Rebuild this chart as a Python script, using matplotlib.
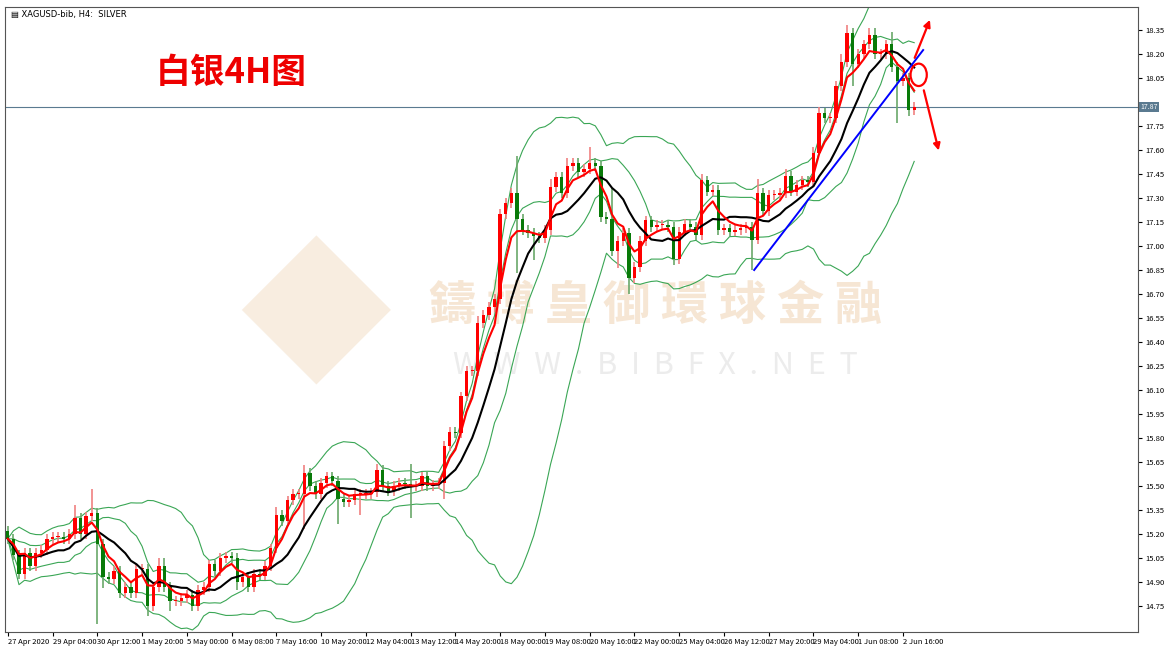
import numpy as np
import pandas as pd
import matplotlib.pyplot as plt
from matplotlib.patches import Ellipse

plt.rcParams['font.family'] = ['Noto Sans CJK SC', 'DejaVu Sans']

# H4 closes of XAGUSD
closes = [
    15.17, 15.07, 14.95, 15.08, 15.00, 15.08, 15.10, 15.17, 15.18, 15.18,
    15.17, 15.20, 15.30, 15.20, 15.31, 15.33, 15.14, 14.93, 14.92, 14.97,
    14.83, 14.87, 14.83, 14.98, 14.98, 14.75, 14.87, 15.00, 14.87, 14.78,
    14.78, 14.80, 14.82, 14.75, 14.85, 14.87, 15.01, 14.97, 15.05, 15.06,
    15.05, 14.90, 14.93, 14.87, 14.95, 14.94, 15.00, 15.11, 15.32, 15.28,
    15.41, 15.45, 15.45, 15.58, 15.50, 15.45, 15.52, 15.56, 15.53, 15.42,
    15.40, 15.41, 15.45, 15.45, 15.45, 15.46, 15.60, 15.50, 15.47, 15.50,
    15.52, 15.51, 15.50, 15.50, 15.56, 15.50, 15.51, 15.52, 15.75, 15.84,
    15.83, 16.06, 16.22, 16.22, 16.52, 16.57, 16.62, 16.67, 17.20, 17.27,
    17.33, 17.17, 17.10, 17.08, 17.06, 17.05, 17.10, 17.37, 17.43, 17.33,
    17.50, 17.52, 17.46, 17.48, 17.52, 17.50, 17.18, 17.17, 16.97, 17.03,
    17.08, 16.80, 16.87, 17.03, 17.16, 17.12, 17.13, 17.13, 17.12, 16.92,
    17.09, 17.14, 17.12, 17.07, 17.41, 17.34, 17.35, 17.10, 17.11, 17.09,
    17.10, 17.11, 17.12, 17.04, 17.33, 17.22, 17.32, 17.32, 17.33, 17.44,
    17.34, 17.38, 17.41, 17.40, 17.58, 17.83, 17.80, 17.80, 18.00, 18.15,
    18.33, 18.14, 18.20, 18.26, 18.32, 18.20, 18.20, 18.26, 18.12, 18.03,
    18.05, 17.85, 17.87,
]
first_open = 15.22

# highs / lows where the wick is clearly visible; others get a short wick
highs = {12: 15.38, 15: 15.48, 27: 15.05, 28: 15.05, 48: 15.37, 53: 15.63,
         66: 15.64, 72: 15.64, 78: 15.78, 84: 16.56, 88: 17.23, 91: 17.56,
         97: 17.42, 100: 17.55, 104: 17.62, 108: 17.36, 124: 17.45,
         134: 17.42, 139: 17.48, 144: 17.62, 145: 17.87, 149: 18.2,
         150: 18.38, 154: 18.36, 155: 18.36, 158: 18.34}
lows = {16: 14.64, 17: 14.86, 25: 14.69, 29: 14.72, 41: 14.85, 53: 15.23,
        59: 15.26, 63: 15.32, 72: 15.30, 78: 15.42, 91: 16.83, 94: 16.91,
        109: 16.86, 111: 16.70, 119: 16.88, 133: 16.85, 145: 17.68,
        151: 18.0, 159: 17.77, 161: 17.81}

tick_labels = ["27 Apr 2020", "29 Apr 04:00", "30 Apr 12:00", "1 May 20:00",
               "5 May 00:00", "6 May 08:00", "7 May 16:00", "10 May 20:00",
               "12 May 04:00", "13 May 12:00", "14 May 20:00", "18 May 00:00",
               "19 May 08:00", "20 May 16:00", "22 May 00:00", "25 May 04:00",
               "26 May 12:00", "27 May 20:00", "29 May 04:00", "1 Jun 08:00",
               "2 Jun 16:00"]
price_ticks = np.round(np.arange(14.75, 18.36, 0.15), 2)
last_price = 17.87

c = pd.Series(closes)
o = c.shift(1).fillna(first_open)
n = len(c)
idx = np.arange(n)

red_ma = c.ewm(span=5, adjust=False).mean()
black_ma = c.rolling(10, min_periods=1).mean()
mid20 = c.rolling(20, min_periods=1).mean()
sd20 = c.rolling(20, min_periods=1).std(ddof=0)
mid10 = c.rolling(10, min_periods=1).mean()
sd10 = c.rolling(10, min_periods=1).std(ddof=0)

ymin, ymax = 14.5875, 18.494

fig = plt.figure(figsize=(11.7, 6.5), dpi=100)
ax = fig.add_axes([5 / 1170, 18 / 650, 1133 / 1170, 625 / 650])
ax.set_zorder(2)
ax.patch.set_alpha(0)

# watermark (behind the chart)
fig.text(0.56, 0.53, "鑄 博 皇 御 環 球 金 融", fontsize=34, color="#f6e6d4",
         ha="center", va="center", fontweight="bold", zorder=0)
fig.text(0.56, 0.438, "W  W  W  .  B  I  B  F  X  .  N  E  T", fontsize=22,
         color="#ececec", ha="center", va="center", zorder=0)
fig.text(0.27, 0.50, "◆", fontsize=110, color="#f8ede0", ha="center",
         va="center", zorder=0)

for i in range(n):
    up = c[i] >= o[i]
    col = "#ff0000" if up else "#087a08"
    wcol = "#f08080" if up else "#6aa86a"
    top, bot = max(o[i], c[i]), min(o[i], c[i])
    hi = highs.get(i, top + 0.03)
    lo = lows.get(i, bot - 0.03)
    ax.vlines(i, lo, hi, color=wcol, lw=1.2, zorder=2)
    ax.bar(i, max(top - bot, 0.006), bottom=bot, width=0.6, color=col,
           lw=0, zorder=3)

band = "#3aa655"
ax.plot(idx, mid20 + 2 * sd20, color=band, lw=0.8, zorder=1)
ax.plot(idx, mid20 - 2 * sd20, color=band, lw=0.8, zorder=1)
ax.plot(idx, mid10 + sd10, color=band, lw=0.8, zorder=1)
ax.plot(idx, mid10 - sd10, color=band, lw=0.8, zorder=1)
ax.plot(idx, black_ma, color="black", lw=1.5, zorder=4)
ax.plot(idx, red_ma, color="#ff0000", lw=1.5, zorder=4)

# trend line and annotations
ax.plot([133.4, 163.6], [16.85, 18.225], color="#0000ff", lw=1.4, zorder=5)
ax.add_patch(Ellipse((162.8, 18.07), 2.9, 0.14, fill=False, ec="#ff0000",
                     lw=1.6, zorder=6))
ax.annotate("", xy=(165.0, 18.43), xytext=(161.9, 18.16),
            arrowprops=dict(arrowstyle="-|>", color="#ff0000", lw=1.6))
ax.annotate("", xy=(166.5, 17.58), xytext=(163.6, 17.99),
            arrowprops=dict(arrowstyle="-|>", color="#ff0000", lw=1.6))

ax.axhline(last_price, color="#5a7a90", lw=0.8, zorder=1)
ax.text(1.002, (last_price - ymin) / (ymax - ymin), f"{last_price:.2f}",
        transform=ax.transAxes, fontsize=5, color="white", va="center",
        ha="left", bbox=dict(boxstyle="square,pad=0.15", fc="#5a7a90", ec="none"))

ax.set_xlim(-0.5, 202)
ax.set_ylim(ymin, ymax)
ax.yaxis.tick_right()
ticks_shown = [p for p in price_ticks if abs(p - last_price) > 0.05]
ax.set_yticks(ticks_shown)
ax.set_yticklabels([f"{p:.2f}" for p in ticks_shown], fontsize=5.5)
ax.set_xticks(np.arange(0, 8 * len(tick_labels), 8))
ax.set_xticklabels(tick_labels, fontsize=5.5, ha="left")
ax.tick_params(axis="x", length=3, pad=1)
ax.tick_params(axis="y", length=3, pad=2)
for s in ax.spines.values():
    s.set_color("#555555")
    s.set_linewidth(0.8)

ax.text(0.005, 0.995, "▤ XAGUSD-bib, H4:  SILVER", transform=ax.transAxes,
        fontsize=6, va="top", ha="left", family=["DejaVu Sans"])
fig.text(0.198, 0.888, "白银4H图", fontsize=25, color="#ee0000",
         fontweight="bold", ha="center", va="center")

fig.savefig("out.png", dpi=100)
